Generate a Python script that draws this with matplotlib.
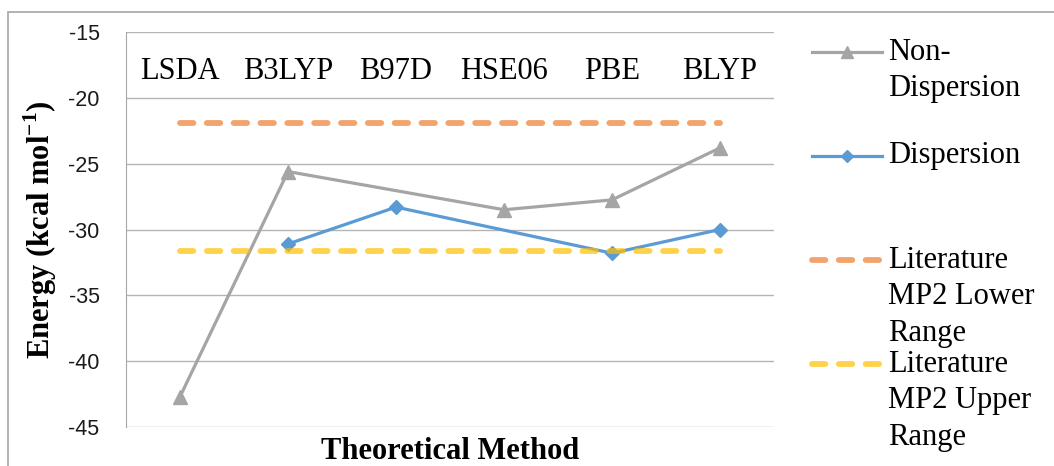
import numpy as np
import matplotlib.pyplot as plt
from matplotlib.lines import Line2D
from matplotlib.patches import Rectangle

# Binding energies per functional (kcal/mol); None = not computed
methods = ['LSDA', 'B3LYP', 'B97D', 'HSE06', 'PBE', 'BLYP']
non_dispersion = [-42.7, -25.6, None, -28.5, -27.75, -23.8]
dispersion = [None, -31.1, -28.3, None, -31.8, -30.0]
mp2_lower = -21.9
mp2_upper = -31.6

serif = 'Liberation Serif'
plt.rcParams['axes.unicode_minus'] = False
plt.rcParams['mathtext.fontset'] = 'custom'
plt.rcParams['mathtext.bf'] = 'Liberation Serif:bold'
plt.rcParams['mathtext.rm'] = 'Liberation Serif:bold'

W, H = 1054, 466
fig = plt.figure(figsize=(W / 100, H / 100), dpi=100)
ax = fig.add_axes([126 / W, 1 - 427 / H, (774 - 126) / W, (427 - 32) / H])

# outer chart frame
fig.patches.append(Rectangle((8 / W, -0.2), 1.2, 1 - 12 / H + 0.2,
                             transform=fig.transFigure, fill=False,
                             edgecolor='#a6a6a6', lw=1.2))

x = np.arange(len(methods))

def valid(vals):
    idx = [i for i, v in enumerate(vals) if v is not None]
    return x[idx], [vals[i] for i in idx]

grey = '#a5a5a5'
blue = '#5b9bd5'
orange = '#ed7d31'
yellow = '#ffc000'

nx, ny = valid(non_dispersion)
ax.plot(nx, ny, color=grey, lw=2.3, marker='^', ms=10, zorder=3)
dx, dy = valid(dispersion)
ax.plot(dx, dy, color=blue, lw=2.3, marker='D', ms=7.5, zorder=3)

dash_kw = dict(lw=4.2, dashes=(2.3, 2.3), dash_capstyle='round', alpha=0.7, zorder=4)
ax.plot(x, [mp2_lower] * len(x), color=orange, **dash_kw)
ax.plot(x, [mp2_upper] * len(x), color=yellow, **dash_kw)

ax.set_xlim(-0.5, len(methods) - 0.5)
ax.set_ylim(-45, -15)
ax.set_yticks(np.arange(-45, -14, 5))
ax.set_xticks([])
ax.grid(axis='y', color='#b4b4b4', lw=1)
ax.set_axisbelow(True)
for s in ['top', 'right', 'bottom']:
    ax.spines[s].set_visible(False)
ax.spines['left'].set_color('#a6a6a6')
ax.tick_params(axis='y', length=0, pad=19, labelsize=15.5, labelcolor='#1a1a1a')
for lab in ax.get_yticklabels():
    lab.set_family('Liberation Sans')

# method names along the top inside the plot
for i, m in enumerate(methods):
    ax.text(i, -18.0, m, ha='center', va='center', family=serif, fontsize=22)

ax.set_ylabel(r'Energy (kcal mol$^{\mathbf{-1}}$)', family=serif,
              fontweight='bold', fontsize=22)
ax.yaxis.set_label_coords(-0.103, 0.5)
ax.set_xlabel('Theoretical Method', family=serif, fontweight='bold', fontsize=22)
ax.xaxis.set_label_coords(0.5, -0.025)

# legend drawn on the right with handles next to the first text line
entries = [
    (52, ['Non-', 'Dispersion'], dict(color=grey, lw=2.3), dict(marker='^', ms=9, color=grey)),
    (156, ['Dispersion'], dict(color=blue, lw=2.3), dict(marker='D', ms=6.5, color=blue)),
    (260, ['Literature', 'MP2 Lower', 'Range'], dict(color=orange, **dash_kw), None),
    (364, ['Literature', 'MP2 Upper', 'Range'], dict(color=yellow, **dash_kw), None),
]
x0, x1, xt = 812 / W, 882 / W, 888 / W
for ypix, lines, lkw, mkw in entries:
    yf = 1 - ypix / H
    fig.add_artist(Line2D([x0, x1], [yf, yf], transform=fig.transFigure, **lkw))
    if mkw:
        fig.add_artist(Line2D([(x0 + x1) / 2], [yf], transform=fig.transFigure,
                              ls='none', **mkw))
    for k, t in enumerate(lines):
        fig.text(xt, 1 - (ypix + k * 36.5) / H, t, family=serif, fontsize=22,
                 ha='left', va='center')

fig.savefig('out.png', dpi=100)
